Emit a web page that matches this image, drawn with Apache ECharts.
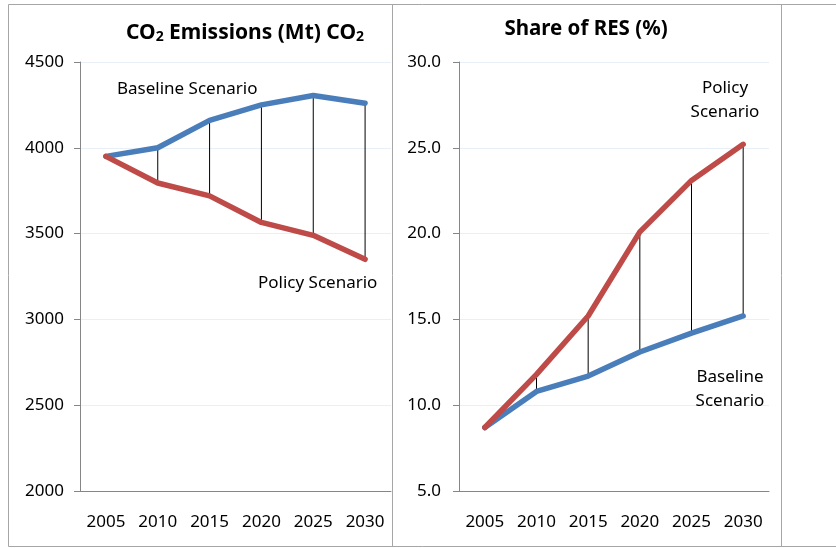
<!DOCTYPE html>
<html>
<head>
<meta charset="utf-8">
<script src="https://cdn.jsdelivr.net/npm/echarts@6/dist/echarts.min.js"></script>
<style>
  html, body { margin: 0; padding: 0; background: #fff; }
  #chart { width: 836px; height: 548px; }
</style>
</head>
<body>
<div id="chart"></div>
<script>
var years = ["2005", "2010", "2015", "2020", "2025", "2030"];
// CO2 emissions (Mt CO2)
var co2Baseline = [3950, 4000, 4160, 4250, 4305, 4260];
var co2Policy = [3950, 3795, 3720, 3565, 3490, 3350];
// share of RES (%)
var resBaseline = [8.7, 10.8, 11.7, 13.1, 14.2, 15.2];
var resPolicy = [8.7, 11.8, 15.2, 20.1, 23.1, 25.2];

var FONT = "Noto Sans";
var FS = 17;
var BLUE = "#4a7ebb";
var RED = "#be4b48";

function dropData(a, b) {
  var out = [];
  for (var i = 0; i < a.length; i++) out.push([i, a[i], b[i]]);
  return out;
}

function dropRender(params, api) {
  var i = api.value(0);
  var p1 = api.coord([i, api.value(1)]);
  var p2 = api.coord([i, api.value(2)]);
  return {
    type: "line",
    shape: { x1: p1[0], y1: p1[1], x2: p2[0], y2: p2[1] },
    style: { stroke: "#000", lineWidth: 1 },
  };
}

function xAxis(idx) {
  return {
    type: "category",
    gridIndex: idx,
    data: years,
    axisLine: { lineStyle: { color: "#868686" } },
    axisTick: { length: 6, lineStyle: { color: "#868686" } },
    axisLabel: { color: "#000", fontFamily: FONT, fontSize: FS, margin: 23 },
  };
}

function yAxis(idx, min, max, step, fmt, margin) {
  return {
    type: "value",
    gridIndex: idx,
    min: min,
    max: max,
    interval: step,
    axisLine: { show: true, lineStyle: { color: "#868686" } },
    axisTick: { show: true, length: 6, lineStyle: { color: "#868686" } },
    splitLine: { lineStyle: { color: "#e9eff6" } },
    axisLabel: { color: "#000", fontFamily: FONT, fontSize: FS, margin: margin, formatter: fmt },
  };
}

function lineSeries(idx, data, color) {
  return {
    type: "line",
    xAxisIndex: idx,
    yAxisIndex: idx,
    data: data,
    symbol: "none",
    z: 3,
    lineStyle: { color: color, width: 5.5, cap: "round", join: "round" },
  };
}

function note(x, y, text, align) {
  return {
    type: "text", x: x, y: y, z: 100,
    style: {
      text: text, align: align, verticalAlign: "middle", lineHeight: 24,
      fontFamily: FONT, fontSize: FS, fill: "#000",
    },
  };
}

var chart = echarts.init(document.getElementById("chart"));
chart.setOption({
  animation: false,
  grid: [
    { left: 80, right: 445, top: 62, bottom: 57 },
    { left: 459, right: 67, top: 62, bottom: 57 },
  ],
  xAxis: [xAxis(0), xAxis(1)],
  yAxis: [
    yAxis(0, 2000, 4500, 500, function (v) { return String(v); }, 16),
    yAxis(1, 5, 30, 5, function (v) { return v.toFixed(1); }, 18),
  ],
  graphic: [
    { type: "rect", shape: { x: 8.5, y: 4.5, width: 840, height: 542 }, style: { fill: "none", stroke: "#a6a6a6", lineWidth: 1 }, z: -1 },
    { type: "line", shape: { x1: 392.5, y1: 4, x2: 392.5, y2: 547 }, style: { stroke: "#a6a6a6", lineWidth: 1 }, z: -1 },
    { type: "line", shape: { x1: 781.5, y1: 4, x2: 781.5, y2: 547 }, style: { stroke: "#a6a6a6", lineWidth: 1 }, z: -1 },
    {
      type: "text", x: 245, y: 33, z: 100,
      style: {
        text: "CO{s|2} Emissions (Mt) CO{s|2}",
        align: "center", verticalAlign: "middle",
        fontFamily: FONT, fontSize: 21, fontWeight: "bold", fill: "#000",
        rich: { s: { fontFamily: FONT, fontSize: 14, fontWeight: "bold", verticalAlign: "bottom", padding: [8, 0, 0, 0] } },
      },
    },
    { type: "text", x: 586, y: 29, z: 100, style: { text: "Share of RES (%)", align: "center", verticalAlign: "middle", fontFamily: FONT, fontSize: 20.5, fontWeight: "bold", fill: "#000" } },
    note(117, 89, "Baseline Scenario", "left"),
    note(258, 283, "Policy Scenario", "left"),
    note(725, 100, "Policy\nScenario", "center"),
    note(730, 389, "Baseline\nScenario", "center"),
  ],
  series: [
    {
      type: "custom", xAxisIndex: 0, yAxisIndex: 0, z: 2,
      renderItem: dropRender, data: dropData(co2Baseline, co2Policy),
      encode: { x: 0, y: [1, 2] },
    },
    lineSeries(0, co2Baseline, BLUE),
    lineSeries(0, co2Policy, RED),
    {
      type: "custom", xAxisIndex: 1, yAxisIndex: 1, z: 2,
      renderItem: dropRender, data: dropData(resBaseline, resPolicy),
      encode: { x: 0, y: [1, 2] },
    },
    lineSeries(1, resBaseline, BLUE),
    lineSeries(1, resPolicy, RED),
  ],
});
</script>
</body>
</html>
